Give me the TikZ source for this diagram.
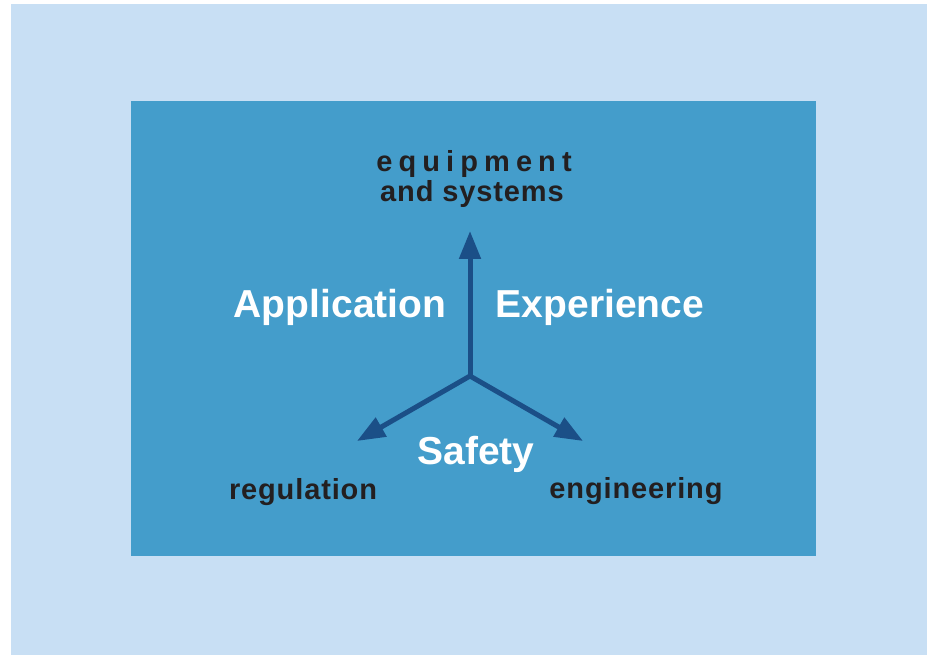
\documentclass[tikz,border=0pt]{standalone}
\usepackage{fontspec}
\setmainfont{Liberation Sans}
\usetikzlibrary{arrows.meta}
\definecolor{paleblue}{HTML}{C8DFF4}
\definecolor{panelblue}{HTML}{449DCB}
\definecolor{spokeblue}{HTML}{1B4F87}
\definecolor{inkdark}{HTML}{231F20}
\tikzset{
	bigword/.style={text=white, anchor=base, inner sep=0pt, font=\fontsize{39}{39}\selectfont\bfseries},
	smallword/.style={text=inkdark, anchor=base, inner sep=0pt, font=\fontsize{29}{29}\selectfont\bfseries\addfontfeature{LetterSpace=3}},
	spoke/.style={draw=spokeblue, line width=5pt, -{Triangle[length=28pt,width=21pt]}}
}

\begin{document}
\begin{tikzpicture}[x=1pt, y=-1pt]
			%%%%% START %%%%%
			
			\useasboundingbox (0, 0) rectangle (927, 655);
			\fill[paleblue] (11, 4) rectangle (927, 655);
			\fill[panelblue] (131, 101) rectangle (816, 555.5);
			
			% the three spokes
			\coordinate (hub) at (470, 376);
			\coordinate (uptip) at (470, 231);
			\coordinate (lefttip) at (357, 441);
			\coordinate (righttip) at (583, 441);
			\draw[spoke] (hub) -- (uptip);
			\draw[spoke] (hub) -- (lefttip);
			\draw[spoke] (hub) -- (righttip);
			
			% labels
			\node[smallword, font=\fontsize{29}{29}\selectfont\bfseries\addfontfeature{LetterSpace=21}] (equip) at (474, 172) {equipment};
			\node[smallword] (systems) at (472, 202) {and systems};
			\node[bigword] (appl) at (340, 317) {Application};
			\node[bigword] (exper) at (600, 317) {Experience};
			\node[bigword] (safety) at (476, 464) {Safety};
			\node[smallword] (regul) at (303, 499) {regulation};
			\node[smallword] (engin) at (636, 498) {engineering};
			
			%%%%% END %%%%%
\end{tikzpicture}
\end{document}
